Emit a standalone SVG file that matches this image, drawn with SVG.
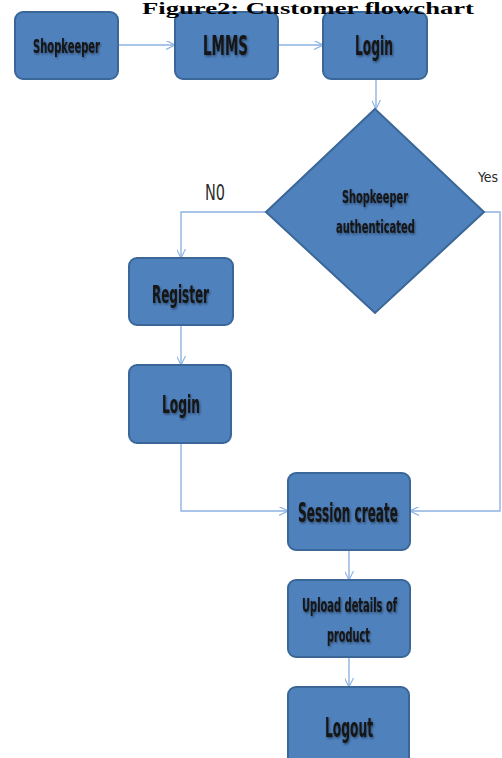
<svg xmlns="http://www.w3.org/2000/svg" width="502" height="758" viewBox="0 0 502 758">
<defs>
<style>
.box{fill:#4F81BD;stroke:#3A6797;stroke-width:2}
.lbl{font-family:"Liberation Sans Narrow","DejaVu Sans Condensed","Liberation Sans",sans-serif;font-weight:bold;fill:#141414;text-anchor:start;filter:url(#sh)}
.con{fill:none;stroke:#8DB3E2;stroke-width:1.4}
.side{font-family:"Liberation Sans Narrow","DejaVu Sans Condensed","Liberation Sans",sans-serif;fill:#2a2a2a}
</style>
<filter id="sh" x="-10%" y="-30%" width="130%" height="170%">
<feDropShadow dx="1" dy="1.5" stdDeviation="1" flood-color="#000" flood-opacity="0.45"/>
</filter>
<marker id="arr" viewBox="0 0 10 10" refX="10" refY="5" markerWidth="9" markerHeight="9" markerUnits="userSpaceOnUse" orient="auto">
<path d="M0,0 L10,5 L0,10" fill="none" stroke="#8DB3E2" stroke-width="1.3"/>
</marker>
</defs>
<rect width="502" height="758" fill="#fff"/>

<g id="connectors">
<path class="con" d="M118,45 L175,45" marker-end="url(#arr)"/>
<path class="con" d="M278,45 L323,45" marker-end="url(#arr)"/>
<path class="con" d="M376,79 L376,109" marker-end="url(#arr)"/>
<path class="con" d="M266,212 L181,212 L181,258" marker-end="url(#arr)"/>
<path class="con" d="M484,212 L500,212 L500,511 L410,511" marker-end="url(#arr)"/>
<path class="con" d="M181,325 L181,365" marker-end="url(#arr)"/>
<path class="con" d="M181,443 L181,511 L288,511" marker-end="url(#arr)"/>
<path class="con" d="M349,550 L349,580" marker-end="url(#arr)"/>
<path class="con" d="M349,657 L349,687" marker-end="url(#arr)"/>
<text class="side" x="205" y="200" font-size="22" textLength="20" lengthAdjust="spacingAndGlyphs">N0</text>
<text class="side" x="478" y="182" font-size="14">Yes</text>
</g>

<g id="shopkeeper">
<rect class="box" x="15" y="12" width="103" height="67" rx="8"/>
<text class="lbl" x="33" y="53" font-size="19" textLength="67" lengthAdjust="spacingAndGlyphs">Shopkeeper</text>
</g>
<g id="lmms">
<rect class="box" x="175" y="12" width="103" height="67" rx="8"/>
<text class="lbl" x="203" y="55" font-size="27" textLength="45" lengthAdjust="spacingAndGlyphs">LMMS</text>
</g>
<g id="login1">
<rect class="box" x="323" y="12" width="104" height="67" rx="8"/>
<text class="lbl" x="355" y="55" font-size="27" textLength="38" lengthAdjust="spacingAndGlyphs">Login</text>
</g>
<g id="decision">
<polygon class="box" points="375,109 484,212 375,313 266,212"/>
<text class="lbl" x="342" y="203" font-size="17" textLength="66" lengthAdjust="spacingAndGlyphs">Shopkeeper</text>
<text class="lbl" x="336" y="233" font-size="17" textLength="79" lengthAdjust="spacingAndGlyphs">authenticated</text>
</g>
<g id="register">
<rect class="box" x="129" y="258" width="104" height="67" rx="8"/>
<text class="lbl" x="152" y="303" font-size="25" textLength="57" lengthAdjust="spacingAndGlyphs">Register</text>
</g>
<g id="login2">
<rect class="box" x="129" y="365" width="102" height="78" rx="8"/>
<text class="lbl" x="162" y="413" font-size="25" textLength="38" lengthAdjust="spacingAndGlyphs">Login</text>
</g>
<g id="session">
<rect class="box" x="288" y="473" width="122" height="77" rx="8"/>
<text class="lbl" x="298" y="522" font-size="26" textLength="100" lengthAdjust="spacingAndGlyphs">Session create</text>
</g>
<g id="upload">
<rect class="box" x="288" y="580" width="122" height="77" rx="8"/>
<text class="lbl" x="302" y="612" font-size="20" textLength="95" lengthAdjust="spacingAndGlyphs">Upload details of</text>
<text class="lbl" x="327" y="642" font-size="20" textLength="43" lengthAdjust="spacingAndGlyphs">product</text>
</g>
<g id="logout">
<rect class="box" x="288" y="687" width="121" height="80" rx="8"/>
<text class="lbl" x="325" y="737" font-size="26" textLength="48" lengthAdjust="spacingAndGlyphs">Logout</text>
</g>
<text id="title" x="142" y="14" font-family="Liberation Serif,serif" font-weight="bold" font-size="16" textLength="332" lengthAdjust="spacingAndGlyphs" fill="#000">Figure2: Customer flowchart</text>
</svg>
